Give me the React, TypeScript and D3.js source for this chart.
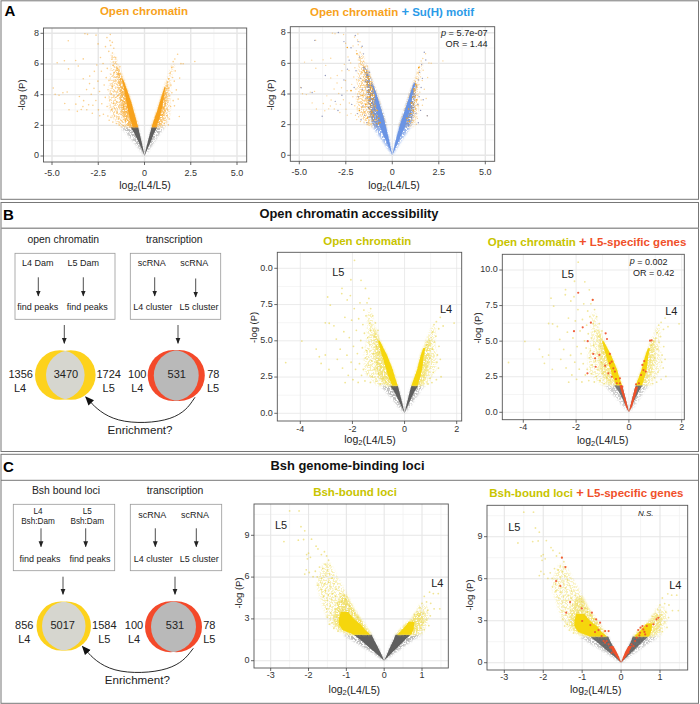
import * as d3 from 'd3';
import { useMemo } from 'react';

type Pt = [number, number];
type Row = [number, number, number]; // -log P, inner x, outer x

const FONT = '"Liberation Sans", Arial, sans-serif';
const GRAY = '#5f5f5f';
const ORANGE = '#f7a21b';
const BLUE = '#6a94e4';
const YELLOW = '#f5d60a';
const PALE = '#efdc55';
const OLIVE = '#c8c400';
const RED = '#f0502a';

const xTicksA = [-5, -2.5, 0, 2.5, 5];
const xLabelsA = ['-5.0', '-2.5', '0', '2.5', '5.0'];
const yTicksA = [0, 2, 4, 6, 8];
const xTicksB = [-4, -2, 0, 2];
const yTicksB = [0, 2.5, 5, 7.5, 10];
const yLabelsB1 = ['0.0', '2.5', '5.0', '7.5', '0.0'];
const yLabelsB2 = ['0.0', '2.5', '5.0', '7.5', '10.0'];
const xTicksC = [-3, -2, -1, 0, 1];
const yTicksC = [0, 3, 6, 9];

// panel A, dense parts of the cloud read as envelopes
const aGrayHaze: Row[][] = [
  [[0, 0, 0], [0.5, -0.08, -0.3], [1, -0.17, -0.62], [1.5, -0.27, -0.98], [1.87, -0.34, -1.28]],
  [[0, 0, 0], [0.5, 0.09, 0.3], [1, 0.19, 0.56], [1.5, 0.3, 0.84], [1.87, 0.38, 1.08]],
];
const aGrayCore: Row[][] = [
  [[0, 0, 0], [0.5, -0.08, -0.17], [1, -0.17, -0.35], [1.5, -0.27, -0.56], [1.87, -0.34, -0.74]],
  [[0, 0, 0], [0.5, 0.09, 0.18], [1, 0.19, 0.36], [1.5, 0.3, 0.52], [1.87, 0.38, 0.68]],
];
const aColorMid: Row[][] = [
  [[1.87, -0.34, -1.25], [2.5, -0.48, -1.7], [3, -0.6, -1.88], [4, -0.85, -1.92], [5, -1.15, -1.85], [6, -1.45, -1.8], [6.6, -1.6, -1.82]],
  [[1.87, 0.38, 1.12], [2.5, 0.55, 1.32], [3, 0.7, 1.38], [4, 0.95, 1.38], [5, 1.22, 1.4], [6, 1.5, 1.62]],
];
const aColorNear: Row[][] = [
  [[1.87, -0.34, -0.9], [2.5, -0.48, -1.15], [3, -0.6, -1.25], [4, -0.85, -1.35], [5, -1.15, -1.42], [5.8, -1.4, -1.55]],
  [[1.87, 0.38, 0.85], [2.5, 0.55, 1.05], [3, 0.7, 1.15], [4, 0.95, 1.22], [4.8, 1.18, 1.28]],
];
const aColorCore: Row[][] = [
  [[1.87, -0.34, -0.64], [2.5, -0.48, -0.8], [3, -0.6, -0.9], [3.5, -0.71, -0.98], [4, -0.85, -1.05], [4.5, -1, -1.13], [5, -1.15, -1.23]],
  [[1.87, 0.38, 0.64], [2.5, 0.55, 0.82], [3, 0.7, 0.92], [3.5, 0.82, 1], [4, 0.95, 1.06], [4.5, 1.08, 1.14]],
];
const aBlueHaze: Row[][] = [
  [[0, 0, 0], [1, -0.17, -0.55], [1.87, -0.34, -1.05], [2.5, -0.48, -1.15], [3, -0.6, -1.1], [3.6, -0.75, -1.05]],
  [[0, 0, 0], [1, 0.19, 0.5], [1.87, 0.38, 0.98], [2.5, 0.55, 1.1], [3, 0.7, 1.1], [3.6, 0.85, 1.12]],
];
const aBlueCore: Row[][] = [
  [[0, 0, 0], [1, -0.17, -0.36], [1.87, -0.34, -0.68], [2.5, -0.48, -0.76], [3, -0.6, -0.82], [4, -0.85, -0.96], [4.6, -1.03, -1.08]],
  [[0, 0, 0], [1, 0.19, 0.37], [1.87, 0.38, 0.68], [2.5, 0.55, 0.84], [3, 0.7, 0.95], [4, 0.95, 1.1], [4.7, 1.15, 1.24]],
];

const aPoints: Pt[] = [
  [-4.83, 4.02], [-4.62, 3.96], [-4.41, 4.12], [-4.18, 4.17], [-4.31, 3.42], [-4.08, 3.02], [-4.93, 4.43], [-4.11, 5.68], [-4.33, 6.21], [-4.72, 6.08],
  [-3.72, 6.23], [-3.58, 5.87], [-3.31, 6.33], [-4.12, 7.51], [-3.22, 7.97], [-3.08, 7.93], [-2.62, 7.88], [-2.51, 7.31], [-3.71, 3.38], [-3.63, 2.91],
  [-3.42, 3.03], [-3.33, 3.22], [-3.52, 3.88], [-3.29, 3.61], [-3.12, 3.02], [-3.02, 3.34], [-3.13, 4.33], [-2.97, 4.72], [-3.31, 5.04], [-2.96, 5.21],
  [-2.88, 4.03], [-2.79, 3.31], [-2.82, 2.79], [-2.71, 5.52], [-2.73, 4.41], [-2.58, 5.93], [-2.63, 3.62], [-2.52, 4.88], [-2.49, 3.01], [-2.42, 2.62],
  [-2.38, 6.42], [-2.43, 4.21], [-2.33, 5.53], [-2.31, 3.41], [-2.22, 2.72], [-2.18, 4.63], [-2.24, 6.03], [-2.12, 3.82], [-2.07, 5.11], [-2.11, 7.13],
  [-2.03, 7.72], [-1.98, 2.61], [-2.02, 3.23], [-1.97, 4.32], [-2.01, 5.71], [-1.91, 2.33], [-1.88, 3.64], [-1.93, 6.82], [-1.87, 7.52], [-1.92, 4.93],
  [-1.85, 7.92], [-1.81, 2.52], [-1.79, 3.03], [-1.78, 4.02], [-1.82, 5.33], [-1.77, 6.31], [-1.83, 7.21], [-1.71, 2.21], [-1.68, 3.42], [-1.72, 4.53],
  [-1.69, 5.91], [-1.73, 6.72], [-1.74, 7.41], [-1.62, 2.63], [-1.64, 3.13], [-1.58, 3.81], [-1.61, 4.22], [-1.59, 4.87], [-1.63, 5.42], [-1.57, 6.13],
  [-1.66, 7.03], [-1.52, 2.12], [-1.49, 2.83], [-1.51, 3.52], [-1.47, 4.47], [-1.53, 5.12], [-1.48, 5.72], [-1.56, 6.42], [-1.42, 2.41], [-1.39, 3.18],
  [-1.44, 3.93], [-1.38, 4.72], [-1.41, 5.33], [-1.33, 5.83], [-1.31, 2.13], [-1.28, 2.72], [-1.34, 3.33], [-1.27, 4.13], [-1.3, 5.01], [-1.36, 2.02],
  [-1.22, 2.28], [-1.19, 3.02], [-1.24, 3.62], [-1.17, 4.42], [-1.13, 1.98], [-1.09, 2.62], [-1.14, 3.21], [-1.07, 3.83], [-1.02, 2.31], [-0.97, 2.92],
  [1.79, 6.63], [1.64, 6.32], [2.09, 6.01], [2.72, 6.16], [1.97, 6.02], [1.55, 6.15], [1.47, 5.76], [1.38, 5.41], [1.66, 5.55], [1.52, 5.12],
  [1.9, 5.08], [1.31, 5.03], [1.61, 4.88], [1.43, 4.62], [1.72, 4.31], [1.32, 4.41], [1.48, 4.12], [1.82, 3.71], [1.36, 3.92], [1.55, 3.61],
  [1.28, 3.52], [1.41, 3.23], [1.62, 3.27], [1.88, 2.58], [1.26, 3.02], [1.12, 2.31], [1.21, 2.62], [1.35, 2.41], [1.06, 2.12], [1.29, 2.03],
  [1.16, 4.13], [1.23, 4.82], [1.13, 3.41], [0.96, 2.72], [1.02, 3.11], [1.07, 3.73],
];
// dots with the motif in the second plot of panel A
const aMotifPoints: Pt[] = [
  [-2.9, 8.01], [-2.6, 7.42], [-4.17, 7.5], [-1.99, 7.82], [-4.9, 4.41], [-4.31, 4.1], [-3.77, 2.55], [-3.07, 3.52], [-2.6, 4.92], [-3.6, 5.21],
  [-2.32, 6.21], [-2.18, 3.32], [-2.41, 5.62], [-2.05, 4.42], [-1.95, 5.52], [-1.88, 2.72], [-1.83, 3.82], [-1.76, 6.42], [-1.72, 5.02], [-1.68, 2.32],
  [-1.61, 4.31], [-1.57, 3.22], [-1.54, 5.71], [-1.49, 2.62], [-1.46, 4.82], [-1.42, 3.72], [-1.37, 2.13], [-1.35, 5.22], [-1.33, 4.22], [-1.29, 3.12],
  [-1.25, 2.52], [-1.22, 5.42], [-1.2, 3.92], [-1.16, 2.83], [-1.12, 4.52], [-1.09, 3.42], [-1.04, 2.21], [-1.02, 4.12], [-0.98, 3.02], [-0.92, 3.62],
  [-1.55, 6.62], [-1.62, 7.12], [-1.84, 7.42], [-2.22, 7.02], [-2.71, 3.92], [-2.92, 2.92],
  [1.72, 6.72], [1.8, 6.22], [1.58, 5.92], [1.47, 5.42], [1.62, 5.02], [1.41, 4.92], [1.55, 4.42], [1.3, 4.52], [1.44, 3.82], [1.66, 3.62], [1.22, 3.92], [1.38, 3.32], [1.15, 3.12], [1.27, 2.73], [1.52, 2.93], [1.4, 2.12], [1.88, 2.58], [1.05, 2.42],
];
const aOrangeHits: Pt[] = [
  [-2.42, 7.03], [-1.9, 6.62], [-1.52, 5.52], [-1.31, 5.12], [-1.21, 4.72], [-1.07, 4.33], [-0.98, 3.92], [-1.25, 3.82], [-1.42, 3.32], [-0.92, 3.22],
  [-1.12, 2.82], [-0.81, 2.92], [-0.72, 2.42], [-1.02, 2.62], [-0.66, 2.13], [-1.33, 2.43], [-0.88, 2.31], [-1.62, 3.92], [-1.77, 2.92], [-2.22, 4.22],
  [1.42, 5.72], [1.27, 4.62], [1.15, 4.32], [1.02, 3.42], [0.88, 3.02], [1.12, 2.92], [0.78, 2.42], [0.92, 2.22], [1.31, 3.62],
];

// panel B
const bGrayHaze: Row[][] = [
  [[0, 0, 0], [0.5, -0.06, -0.26], [1, -0.13, -0.47], [1.5, -0.2, -0.72], [1.9, -0.26, -0.92]],
  [[0, 0, 0], [0.5, 0.06, 0.22], [1, 0.13, 0.4], [1.5, 0.2, 0.58], [1.9, 0.26, 0.76]],
];
const bGrayCore: Row[][] = [
  [[0, 0, 0], [0.5, -0.06, -0.13], [1, -0.13, -0.26], [1.5, -0.2, -0.4], [1.9, -0.26, -0.56]],
  [[0, 0, 0], [0.5, 0.06, 0.12], [1, 0.13, 0.25], [1.5, 0.2, 0.38], [1.9, 0.26, 0.52]],
];
const bColorMid: Row[][] = [
  [[1.9, -0.26, -1.02], [2.5, -0.37, -1.4], [3, -0.45, -1.55], [4, -0.67, -1.55], [5, -0.95, -1.45], [6, -1.15, -1.42], [7, -1.28, -1.42]],
  [[1.9, 0.26, 0.86], [2.5, 0.38, 1.02], [3, 0.48, 1.2], [4, 0.62, 1.22], [5, 0.82, 1.15], [6, 1.05, 1.2]],
];
const bColorNear: Row[][] = [
  [[1.9, -0.26, -0.72], [2.5, -0.37, -0.98], [3, -0.45, -1.1], [4, -0.67, -1.15], [5, -0.95, -1.15], [5.8, -1.12, -1.22]],
  [[1.9, 0.26, 0.68], [2.5, 0.38, 0.82], [3, 0.48, 0.92], [4, 0.62, 0.98], [5, 0.84, 1.02]],
];
const bColorCore: Row[][] = [
  [[1.9, -0.26, -0.47], [2.5, -0.37, -0.62], [3, -0.45, -0.7], [4, -0.67, -0.87], [5, -0.95, -1.02]],
  [[1.9, 0.26, 0.5], [2.5, 0.38, 0.6], [3, 0.48, 0.67], [4, 0.62, 0.74], [4.5, 0.72, 0.8]],
];
const bPoints: Pt[] = [
  [-4.56, 3.5], [-3.94, 4.98], [-3.39, 4.43], [-3.27, 3.9], [-3.2, 3.44], [-3.04, 4.02], [-2.9, 3.02], [-3.04, 6.24], [-2.89, 6.21], [-2.85, 7.46],
  [-2.95, 8.02], [-2.4, 8.62], [-2.41, 8.26], [-2.06, 9.21], [-1.92, 10.55], [-1.67, 9.17], [-1.5, 8.61], [-2.2, 7.82], [-2.08, 8.12], [-2.28, 2.12],
  [-2.71, 6.03], [-2.62, 5.12], [-2.58, 3.72], [-2.47, 4.42], [-2.38, 3.12], [-2.33, 5.63], [-2.29, 6.62], [-2.21, 4.01], [-2.16, 2.62], [-2.12, 5.22],
  [-2.05, 3.52], [-2.03, 6.42], [-1.98, 2.32], [-1.96, 4.62], [-1.93, 7.22], [-1.88, 3.03], [-1.85, 5.72], [-1.81, 4.12], [-1.78, 2.13], [-1.76, 6.52],
  [-1.73, 3.42], [-1.71, 7.62], [-1.68, 5.02], [-1.65, 2.62], [-1.62, 4.52], [-1.6, 6.12], [-1.58, 3.02], [-1.56, 7.12], [-1.54, 5.52], [-1.52, 2.23],
  [-1.5, 3.82], [-1.48, 6.72], [-1.46, 4.32], [-1.44, 7.62], [-1.43, 2.72], [-1.41, 5.22], [-1.39, 3.32], [-1.37, 7.92], [-1.35, 6.22], [-1.33, 4.72],
  [-1.31, 2.13], [-1.3, 7.22], [-1.29, 5.72], [-1.26, 3.62], [-1.24, 2.52], [-1.22, 6.72], [-1.2, 4.12], [-1.17, 3.02], [-1.15, 5.32], [-1.12, 6.23],
  [-1.1, 2.22], [-1.08, 4.62], [-1.05, 3.52], [-1.02, 5.72], [-1, 2.72], [-0.96, 4.22], [-0.94, 2.02], [-0.9, 3.22], [-0.84, 2.42],
  [1.9, 6.22], [1.37, 6.62], [1.48, 6.02], [1.31, 5.83], [1.22, 6.32], [1.13, 6.12], [1.07, 5.62], [1.2, 5.32], [1.15, 4.92], [1.02, 5.22],
  [0.94, 5.02], [1.32, 4.62], [1.08, 4.42], [1.26, 4.02], [1.37, 3.72], [1.24, 3.52], [1.3, 3.12], [1.4, 2.52], [1.1, 2.82], [1.22, 2.32],
  [0.98, 2.42], [1.05, 2.12], [0.9, 2.02], [0.85, 4.72], [0.97, 3.82],
];
const bRedWedge: Row[][] = [
  [[0, 0, 0], [0.4, -0.05, -0.12], [1, -0.13, -0.21], [1.9, -0.26, -0.36]],
  [[0, 0, 0], [0.4, 0.05, 0.12], [1, 0.13, 0.22], [1.8, 0.24, 0.35]],
];
const bRedPoints: Pt[] = [
  [-1.92, 8.4], [-1.37, 7.9], [-1.75, 5.97], [-2.08, 5.7], [-1.44, 6.3], [-1.56, 5], [-0.88, 5.55], [-0.83, 5.15], [-1.35, 4.1], [-1.12, 4.03],
  [-0.72, 4.1], [-0.65, 3.56], [-0.72, 3.44], [-0.9, 3.28], [-1.28, 3.8], [-1.26, 3.2], [-1.57, 2.74], [-0.34, 2.39], [-0.53, 2.86], [-0.78, 2.74],
  [-0.59, 3.09], [-0.46, 2.04], [-0.34, 2.04], [-0.49, 2.34], [-0.25, 1.8], [-0.65, 2.5], [0.58, 3.6], [0.51, 3.33], [0.55, 2.97], [0.46, 2.62],
  [0.38, 2.04], [0.27, 1.97], [0.86, 5.06], [0.8, 5.03], [0.64, 2.86],
];

// panel C
const cGrayHaze: Row[][] = [
  [[0, 0, 0], [0.5, -0.08, -0.27], [1, -0.17, -0.56], [1.5, -0.27, -0.86], [1.87, -0.33, -1.08]],
  [[0, 0, 0], [0.5, 0.08, 0.25], [1, 0.16, 0.5], [1.5, 0.25, 0.76], [1.87, 0.3, 0.98]],
];
const cGrayCore: Row[][] = [
  [[0, 0, 0], [0.5, -0.08, -0.2], [1, -0.17, -0.42], [1.5, -0.27, -0.63], [1.87, -0.33, -0.8]],
  [[0, 0, 0], [0.5, 0.08, 0.18], [1, 0.16, 0.37], [1.5, 0.25, 0.55], [1.87, 0.3, 0.7]],
];
const cColorMid: Row[][] = [
  [[1.87, -0.33, -0.98], [2.2, -0.42, -1.25], [2.6, -0.52, -1.42], [3, -0.62, -1.5], [3.6, -0.77, -1.58], [4.2, -0.9, -1.65], [4.83, -1, -1.72], [5.5, -1.13, -1.78], [6.2, -1.28, -1.72], [7, -1.43, -1.6]],
  [[1.87, 0.3, 1], [2.5, 0.52, 1.12], [3, 0.72, 1.18], [3.5, 0.85, 1.18], [4, 0.92, 1.12]],
];
const cColorNear: Row[][] = [
  [[1.87, -0.33, -0.9], [2.2, -0.42, -1.17], [2.6, -0.52, -1.32], [3, -0.62, -1.35], [3.6, -0.77, -1.3], [4.2, -0.9, -1.22], [4.7, -0.98, -1.15]],
  [[1.87, 0.3, 0.85], [2.5, 0.52, 1], [3, 0.72, 1.05], [3.5, 0.84, 1.05]],
];
const cColorCore: Row[][] = [
  [[1.87, -0.36, -0.8], [2.2, -0.5, -1.1], [2.6, -0.62, -1.2], [3, -0.8, -1.2], [3.5, -0.95, -1.15]],
  [[1.87, 0.34, 0.72], [2.3, 0.5, 0.78], [2.8, 0.65, 0.8]],
];
const cPoints: Pt[] = [
  [-2.5, 10.75], [-2.25, 10.75], [-2.65, 8.55], [-2.2, 9.62], [-2.27, 8.65], [-2.13, 8.7], [-2.1, 9.32], [-1.92, 8.72], [-1.8, 8.22], [-1.75, 8.02],
  [-1.66, 7.62], [-2.05, 7.62], [-2.03, 7.31], [-2, 7.72], [-1.95, 7.42], [-1.58, 7.82], [-1.52, 7.52], [-1.47, 7.21], [-1.43, 6.83], [-1.5, 6.52],
  [-1.56, 6.92], [-1.62, 6.62], [-1.71, 6.72], [-1.82, 6.42], [-1.98, 6.33], [-2.06, 6.52], [-2.1, 6.22], [-1.88, 6.03], [-1.77, 6.02], [-1.65, 5.92],
  [-1.55, 6.12], [-1.44, 6.22], [-1.38, 5.92], [-1.47, 5.62], [-1.58, 5.52], [-1.68, 5.62], [-1.76, 5.42], [-1.67, 5.12], [-1.55, 5.02], [-1.43, 5.32],
  [-1.33, 5.52], [-1.28, 5.12], [-1.36, 4.82], [-1.48, 4.72], [-1.6, 4.62], [-1.5, 4.32], [-1.4, 4.42], [-1.28, 4.62], [-1.17, 4.82], [-1.06, 4.72],
  [-1.01, 4.42], [-1.12, 4.22], [-1.24, 4.12], [-1.43, 3.92], [-1.52, 3.72], [-1.3, 3.72], [-1.42, 3.42], [-1.5, 3.12], [-1.38, 2.72], [-1.45, 2.62],
  [-1.33, 2.33], [-1.22, 2.12], [-0.92, 3.92], [-0.86, 3.62], [-0.78, 3.42], [-0.7, 3.12], [-0.62, 2.82], [-0.95, 3.42], [-1.1, 3.62], [-1, 4.02],
  [1.47, 3.72], [1.43, 4.82], [1.3, 4.82], [1.2, 4.92], [1.06, 4.62], [1.0, 4.12], [1.12, 4.22], [1.23, 4.12], [1.32, 3.72], [1.15, 3.62],
  [1.05, 3.42], [0.94, 3.82], [0.88, 3.52], [1.22, 3.22], [1.12, 2.92], [1.18, 2.52], [1.03, 2.72], [0.98, 2.32], [0.92, 3.22], [1.06, 2.22], [0.8, 3.32],
];
const cRedWedge: Row[][] = [
  [[0, 0, 0], [0.4, -0.05, -0.12], [0.8, -0.12, -0.22], [1.2, -0.2, -0.28]],
  [[0, 0, 0], [0.4, 0.05, 0.12], [0.8, 0.11, 0.21], [1.2, 0.19, 0.28]],
];
const cRedPoints: Pt[] = [
  [-1.52, 7.5], [-1.43, 6.83], [-1.67, 5.83], [-1.56, 5.48], [-1.31, 4.33], [-1.41, 3.57], [-1.01, 3.88], [-0.75, 3.57], [-0.64, 3.1], [-1, 2.98],
  [-0.54, 2.86], [-0.79, 2.69], [-0.41, 2.26], [-0.32, 2.26], [-0.58, 2.33], [-0.67, 2.19], [-0.5, 1.9], [-0.41, 1.43], [-0.32, 1.31], [-0.24, 0.71],
  [-0.37, 1.55], [-0.45, 1.55], [-0.28, 1.07], [0.4, 1.79], [0.49, 2.14], [0.57, 2.38], [0.66, 2.62], [0.5, 2.5], [0.44, 2.33], [0.62, 2.02],
  [0.83, 2.74], [0.96, 3.21], [0.91, 3.1], [0.36, 1.55], [0.27, 1.31], [0.23, 1.07], [0.19, 0.71], [0.32, 1.19], [0.55, 2.62], [0.6, 2.2], [0.47, 1.95],
];

type Scales = { x: d3.ScaleLinear<number, number>; y: d3.ScaleLinear<number, number> };

function Wedges({ rows, fill, opacity = 1, filter, x, y }: Scales & { rows: Row[][]; fill: string; opacity?: number; filter?: string }) {
  const gen = d3.area<Row>().x0((d) => x(d[1])).x1((d) => x(d[2])).y((d) => y(d[0]));
  return (
    <g opacity={opacity} filter={filter ? `url(#${filter})` : undefined}>
      {rows.map((r, i) => <path key={i} d={gen(r) ?? ''} fill={fill} />)}
    </g>
  );
}

function Dots({ pts, fill, r, opacity = 1, x, y }: Scales & { pts: Pt[]; fill: string; r: number; opacity?: number }) {
  return <g>{pts.map((d, i) => <circle key={i} cx={x(d[0])} cy={y(d[1])} r={r} fill={fill} fillOpacity={opacity} />)}</g>;
}

function Log2({ x, y }: { x: number; y: number }) {
  return (
    <text x={x} y={y} textAnchor="middle" fontSize={10.5} fill="#222" dominantBaseline="middle">
      log<tspan fontSize={7.5} dy={2.5}>2</tspan><tspan dy={-2.5}>(L4/L5)</tspan>
    </text>
  );
}

let clipCounter = 0;

type PlotProps = {
  frame: [number, number, number, number]; // left, right, top, bottom
  xMap: [number, number, number, number]; // value, px, value, px
  yMap: [number, number, number, number];
  xTicks: number[];
  xLabels: string[];
  yTicks: number[];
  yLabels: string[];
  xTitle: [number, number];
  yTitle: [number, number];
  major: number;
  tickGap: number;
  children: (s: Scales) => React.ReactNode;
};

function Plot({ frame, xMap, yMap, xTicks, xLabels, yTicks, yLabels, xTitle, yTitle, major, tickGap, children }: PlotProps) {
  const [left, right, top, bottom] = frame;
  const x = useMemo(() => d3.scaleLinear().domain([xMap[0], xMap[2]]).range([xMap[1], xMap[3]]), []);
  const y = useMemo(() => d3.scaleLinear().domain([yMap[0], yMap[2]]).range([yMap[1], yMap[3]]), []);
  const id = useMemo(() => `clip${clipCounter++}`, []);
  const step = (t: number[]) => t[1] - t[0];
  const minorX = [xTicks[0] - step(xTicks) / 2, ...d3.pairs(xTicks).map((p) => (p[0] + p[1]) / 2), xTicks[xTicks.length - 1] + step(xTicks) / 2];
  const minorY = [...d3.pairs(yTicks).map((p) => (p[0] + p[1]) / 2), yTicks[yTicks.length - 1] + step(yTicks) / 2];
  return (
    <g>
      <clipPath id={id}><rect x={left} y={top} width={right - left} height={bottom - top} /></clipPath>
      <g clipPath={`url(#${id})`}>
        {minorX.map((t) => <line key={t} x1={x(t)} x2={x(t)} y1={top} y2={bottom} stroke="#f0f0f0" strokeWidth={0.7} />)}
        {minorY.map((t) => <line key={t} y1={y(t)} y2={y(t)} x1={left} x2={right} stroke="#f0f0f0" strokeWidth={0.7} />)}
        {xTicks.map((t) => <line key={t} x1={x(t)} x2={x(t)} y1={top} y2={bottom} stroke="#e6e6e6" strokeWidth={major} />)}
        {yTicks.map((t) => <line key={t} y1={y(t)} y2={y(t)} x1={left} x2={right} stroke="#e6e6e6" strokeWidth={major} />)}
        {children({ x, y })}
      </g>
      <rect x={left} y={top} width={right - left} height={bottom - top} fill="none" stroke="#555" strokeWidth={0.9} />
      {xTicks.map((t, i) => (
        <g key={t}>
          <line x1={x(t)} x2={x(t)} y1={bottom} y2={bottom + 3} stroke="#444" strokeWidth={0.8} />
          <text x={x(t)} y={bottom + tickGap} textAnchor="middle" dominantBaseline="middle" fontSize={9} fill="#333">{xLabels[i]}</text>
        </g>
      ))}
      {yTicks.map((t, i) => (
        <g key={t}>
          <line x1={left - 3} x2={left} y1={y(t)} y2={y(t)} stroke="#444" strokeWidth={0.8} />
          <text x={left - 4.5} y={y(t)} textAnchor="end" dominantBaseline="middle" fontSize={9} fill="#333">{yLabels[i]}</text>
        </g>
      ))}
      <Log2 x={xTitle[0]} y={xTitle[1]} />
      <text transform={`translate(${yTitle[0]},${yTitle[1]}) rotate(-90)`} textAnchor="middle" dominantBaseline="middle" fontSize={9.5} fill="#222">-log (P)</text>
    </g>
  );
}

function Label({ x, y, size = 9, anchor = 'middle', style, weight, fill = '#222', children }: any) {
  return <text x={x} y={y} fontSize={size} textAnchor={anchor} dominantBaseline="middle" fontStyle={style} fontWeight={weight} fill={fill}>{children}</text>;
}

function Arrow({ x, y1, y2 }: { x: number; y1: number; y2: number }) {
  return <line x1={x} x2={x} y1={y1} y2={y2} stroke="#222" strokeWidth={0.8} markerEnd="url(#tip)" />;
}

function Venn({ c1, c2, cy, r, outer, inner, id }: { c1: number; c2: number; cy: number; r: number; outer: string; inner: string; id: string }) {
  return (
    <g>
      <clipPath id={id}><circle cx={c1} cy={cy} r={r} /></clipPath>
      <circle cx={c1} cy={cy} r={r} fill={outer} />
      <circle cx={c2} cy={cy} r={r} fill={outer} />
      <circle cx={c2} cy={cy} r={r} fill={inner} clipPath={`url(#${id})`} />
    </g>
  );
}

// grain for the dense parts of the clouds, threshold sets how much is covered
function Speckle({ id, cut, seed, blur = 0.8 }: { id: string; cut: number; seed: number; blur?: number }) {
  return (
    <filter id={id} x="-15%" y="-15%" width="130%" height="130%" colorInterpolationFilters="sRGB">
      <feGaussianBlur in="SourceGraphic" stdDeviation={blur} result="soft" />
      <feTurbulence type="fractalNoise" baseFrequency={0.6} numOctaves={2} seed={seed} result="noise" />
      <feColorMatrix in="noise" type="matrix" values={`0 0 0 0 0  0 0 0 0 0  0 0 0 0 0  0 0 0 9 ${-9 * cut}`} result="mask" />
      <feComposite in="soft" in2="mask" operator="in" />
    </filter>
  );
}

export default function App() {
  const bx = { xTicks: xTicksB, xLabels: xTicksB.map(String), yTicks: yTicksB, major: 0.8 };
  const cx = { xTicks: xTicksC, xLabels: xTicksC.map(String), yTicks: yTicksC, yLabels: yTicksC.map(String), major: 1.1, tickGap: 8 };
  const ax = { xTicks: xTicksA, xLabels: xLabelsA, yTicks: yTicksA, yLabels: yTicksA.map(String), major: 1.4, tickGap: 11.2 };
  const curve = d3.line<Pt>().curve(d3.curveBasis);
  return (
    <svg width={700} height={704} style={{ position: 'absolute', left: 0, top: 0, fontFamily: FONT }}>
      <defs>
        <marker id="tip" markerWidth={6} markerHeight={6} refX={4.5} refY={2} orient="auto" markerUnits="userSpaceOnUse" viewBox="0 0 5 4">
          <path d="M0 0L5 2L0 4Z" fill="#222" />
        </marker>
        <marker id="bigtip" markerWidth={9} markerHeight={8} refX={6} refY={3} orient="auto" markerUnits="userSpaceOnUse" viewBox="0 0 7 6">
          <path d="M0 0L7 3L0 6Z" fill="#111" />
        </marker>
        <Speckle id="sparse" cut={0.46} seed={3} />
        <Speckle id="near" cut={0.37} seed={8} />
        <Speckle id="sparse2" cut={0.41} seed={14} />
        <filter id="soft" x="-15%" y="-15%" width="130%" height="130%"><feGaussianBlur stdDeviation={0.5} /></filter>
      </defs>
      <rect width={700} height={704} fill="#fff" />

      {/* outer boxes */}
      <rect x={1} y={0.8} width={697.5} height={198.5} fill="none" stroke="#777" strokeWidth={1} />
      <rect x={1} y={202.5} width={697.5} height={249} fill="none" stroke="#777" strokeWidth={1} />
      <line x1={1} x2={698.5} y1={228.3} y2={228.3} stroke="#999" strokeWidth={1.4} />
      <rect x={1} y={454.3} width={697.5} height={249} fill="none" stroke="#777" strokeWidth={1} />
      <line x1={1} x2={698.5} y1={480.3} y2={480.3} stroke="#777" strokeWidth={1} />

      <Label x={10} y={12.5} size={15} weight="bold" fill="#000">A</Label>
      <Label x={8.5} y={216.5} size={15} weight="bold" fill="#000">B</Label>
      <Label x={8.5} y={468.5} size={15} weight="bold" fill="#000">C</Label>
      <Label x={349} y={215} size={12.9} weight="bold" fill="#111">Open chromatin accessibility</Label>
      <Label x={347.5} y={466.5} size={12.9} weight="bold" fill="#111">Bsh genome-binding loci</Label>

      {/* panel A */}
      <Label x={144} y={12} size={11.5} weight="bold" fill={ORANGE}>Open chromatin</Label>
      <Plot {...ax} frame={[43.5, 246.7, 28, 162]} xMap={[-5, 52, 5, 237]} yMap={[0, 156, 8, 33.3]} xTitle={[145, 186]} yTitle={[22, 95]}>
        {(s) => (
          <>
            <Wedges {...s} rows={aGrayHaze} fill={GRAY} opacity={0.4} filter="sparse2" />
            <Wedges {...s} rows={aGrayCore} fill={GRAY} filter="soft" />
            <Wedges {...s} rows={aColorMid} fill={ORANGE} opacity={0.38} filter="sparse" />
            <Wedges {...s} rows={aColorNear} fill={ORANGE} opacity={0.6} filter="near" />
            <Wedges {...s} rows={aColorCore} fill={ORANGE} filter="soft" />
            <Dots {...s} pts={aPoints} fill={ORANGE} r={0.8} opacity={0.5} />
          </>
        )}
      </Plot>

      <text x={310} y={13} fontSize={11.5} fontWeight="bold" dominantBaseline="middle" fill={ORANGE}>
        Open chromatin <tspan fill="#2b9be8" fontSize={13}>+</tspan><tspan fill="#2b9be8"> Su(H) motif</tspan>
      </text>
      <Plot {...ax} frame={[290.3, 494.7, 26.7, 161.3]} xMap={[-5, 299.3, 5, 485.3]} yMap={[0, 155.3, 8, 32.7]} xTitle={[394, 186]} yTitle={[271, 95]}>
        {(s) => (
          <>
            <Wedges {...s} rows={aColorMid} fill={ORANGE} opacity={0.42} filter="sparse" />
            <Wedges {...s} rows={aColorNear} fill="#5f6a92" opacity={0.65} filter="sparse2" />
            <Wedges {...s} rows={aColorNear} fill={ORANGE} opacity={0.5} filter="sparse" />
            <Wedges {...s} rows={aBlueHaze} fill={BLUE} opacity={0.7} filter="near" />
            <Wedges {...s} rows={aBlueCore} fill={BLUE} filter="soft" />
            <Dots {...s} pts={aPoints} fill={ORANGE} r={0.7} opacity={0.45} />
            <Dots {...s} pts={aMotifPoints} fill="#6c75a6" r={0.7} opacity={0.75} />
            <Dots {...s} pts={aOrangeHits} fill={ORANGE} r={0.8} />
          </>
        )}
      </Plot>
      <text x={487.7} y={33.5} fontSize={9.2} textAnchor="end" dominantBaseline="middle" fill="#222"><tspan fontStyle="italic">p</tspan> = 5.7e-07</text>
      <Label x={487.7} y={44.7} size={9.2} anchor="end">OR = 1.44</Label>

      {/* panel B */}
      <Label x={63.3} y={240} size={10.4}>open chromatin</Label>
      <Label x={174.3} y={240} size={10.4}>transcription</Label>
      <rect x={15} y={253.3} width={100} height={66} fill="#fff" stroke="#999" strokeWidth={0.8} />
      <rect x={130.3} y={253.3} width={90.4} height={66} fill="#fff" stroke="#999" strokeWidth={0.8} />
      <Label x={37.7} y={264} size={9}>L4 Dam</Label>
      <Label x={83.3} y={264} size={9}>L5 Dam</Label>
      <Label x={37.7} y={308} size={9}>find peaks</Label>
      <Label x={87.3} y={308} size={9}>find peaks</Label>
      <Label x={151.7} y={264} size={9}>scRNA</Label>
      <Label x={194.3} y={264} size={9}>scRNA</Label>
      <Label x={152.7} y={308} size={9}>L4 cluster</Label>
      <Label x={199} y={308} size={9}>L5 cluster</Label>
      <Arrow x={38.3} y1={277.3} y2={296} />
      <Arrow x={83.3} y1={277.3} y2={296} />
      <Arrow x={154.7} y1={277.3} y2={296} />
      <Arrow x={195.7} y1={278.5} y2={297} />
      <Arrow x={64.3} y1={325} y2={343.3} />
      <Arrow x={178} y1={325} y2={343.3} />
      <Venn id="vb1" c1={59.8} c2={70.8} cy={375} r={24.8} outer="#fdd21c" inner="#d6d6cf" />
      <Venn id="vb2" c1={173.2} c2={179.3} cy={375.5} r={25.5} outer="#f4492a" inner="#b9b9b9" />
      {[['1356', 20.7, 375], ['L4', 20, 389.5], ['3470', 66, 375], ['1724', 108.7, 375], ['L5', 108.7, 389.5], ['100', 137.3, 375], ['L4', 137.3, 389.5], ['531', 176.7, 375], ['78', 213.3, 375], ['L5', 213, 389.5]].map((d, i) => (
        <Label key={i} x={d[1]} y={d[2]} size={11}>{d[0]}</Label>
      ))}
      <path d={curve([[195, 397.3], [178, 422], [112, 425], [86, 397.3]]) ?? ''} fill="none" stroke="#111" strokeWidth={0.9} markerEnd="url(#bigtip)" />
      <Label x={140} y={430.7} size={11.6}>Enrichment?</Label>

      <Label x={367.3} y={242.3} size={11.5} weight="bold" fill={OLIVE}>Open chromatin</Label>
      <Plot {...bx} tickGap={8.3} yLabels={yLabelsB1} frame={[277.3, 461.7, 252.3, 421]} xMap={[-4, 300.3, 2, 456.7]} yMap={[0, 413.3, 10, 268.3]} xTitle={[370, 440.7]} yTitle={[254.3, 327.3]}>
        {(s) => (
          <>
            <Wedges {...s} rows={bGrayHaze} fill={GRAY} opacity={0.4} filter="sparse2" />
            <Wedges {...s} rows={bGrayCore} fill={GRAY} filter="soft" />
            <Wedges {...s} rows={bColorMid} fill={PALE} opacity={0.42} filter="sparse" />
            <Wedges {...s} rows={bColorNear} fill={PALE} opacity={0.65} filter="near" />
            <Wedges {...s} rows={bColorCore} fill={YELLOW} filter="soft" />
            <Dots {...s} pts={bPoints} fill="#e5cf3a" r={0.9} opacity={0.55} />
          </>
        )}
      </Plot>
      <Label x={338.3} y={272.7} size={11}>L5</Label>
      <Label x={446} y={310} size={11}>L4</Label>

      <text x={487.7} y={243.3} fontSize={11.5} fontWeight="bold" dominantBaseline="middle" fill={OLIVE}>
        Open chromatin <tspan fill={RED} fontSize={13}>+</tspan><tspan fill={RED}> L5-specific genes</tspan>
      </text>
      <Plot {...bx} tickGap={8} yLabels={yLabelsB2} frame={[502.3, 684.3, 254.3, 419.7]} xMap={[-4, 523.3, 2, 681.7]} yMap={[0, 412.3, 10, 270]} xTitle={[602.7, 441]} yTitle={[478.7, 328]}>
        {(s) => (
          <>
            <Wedges {...s} rows={bGrayHaze} fill={GRAY} opacity={0.32} filter="sparse2" />
            <Wedges {...s} rows={bGrayCore} fill={GRAY} opacity={0.85} filter="soft" />
            <Wedges {...s} rows={bColorMid} fill={PALE} opacity={0.36} filter="sparse" />
            <Wedges {...s} rows={bColorNear} fill={PALE} opacity={0.55} filter="near" />
            <Wedges {...s} rows={bColorCore} fill={YELLOW} filter="soft" />
            <Dots {...s} pts={bPoints} fill="#e5cf3a" r={0.9} opacity={0.5} />
            <Wedges {...s} rows={bRedWedge} fill={RED} />
            <Dots {...s} pts={bRedPoints} fill={RED} r={1.1} opacity={0.9} />
          </>
        )}
      </Plot>
      <Label x={567.7} y={275} size={11}>L5</Label>
      <Label x={671.3} y={311.7} size={11}>L4</Label>
      <text x={648.7} y={262.3} fontSize={9} textAnchor="middle" dominantBaseline="middle" fill="#222"><tspan fontStyle="italic">p</tspan> = 0.002</text>
      <Label x={653.7} y={273.3} size={9}>OR = 0.42</Label>

      {/* panel C */}
      <Label x={66} y={491.7} size={10.4}>Bsh bound loci</Label>
      <Label x={175} y={491.7} size={10.4}>transcription</Label>
      <rect x={13.3} y={504.3} width={101.4} height={66.4} fill="#fff" stroke="#999" strokeWidth={0.8} />
      <rect x={130.3} y={504.3} width={91.4} height={66.4} fill="#fff" stroke="#999" strokeWidth={0.8} />
      <Label x={38} y={512} size={8.2}>L4</Label>
      <Label x={38} y={522} size={8.2}>Bsh:Dam</Label>
      <Label x={87.3} y={512} size={8.2}>L5</Label>
      <Label x={87.3} y={522} size={8.2}>Bsh:Dam</Label>
      <Label x={40} y={559.3} size={9}>find peaks</Label>
      <Label x={90} y={559.3} size={9}>find peaks</Label>
      <Label x={152.3} y={515.7} size={9}>scRNA</Label>
      <Label x={195} y={515.7} size={9}>scRNA</Label>
      <Label x={153.3} y={559.3} size={9}>L4 cluster</Label>
      <Label x={199.3} y={559.3} size={9}>L5 cluster</Label>
      <Arrow x={41} y1={528.3} y2={546.7} />
      <Arrow x={85.7} y1={528.3} y2={546.7} />
      <Arrow x={155.3} y1={528.3} y2={546.7} />
      <Arrow x={196.3} y1={528.3} y2={546.7} />
      <Arrow x={63} y1={576.7} y2={594.3} />
      <Arrow x={175} y1={576.7} y2={594.3} />
      <Venn id="vc1" c1={61} c2={66.5} cy={626} r={24.5} outer="#fdd21c" inner="#d6d6cf" />
      <Venn id="vc2" c1={170.5} c2={176.5} cy={626.7} r={25.5} outer="#f4492a" inner="#b9b9b9" />
      {[['856', 24.3, 625.7], ['L4', 24.3, 640], ['5017', 62.7, 625.7], ['1584', 104.3, 625.7], ['L5', 104.3, 640], ['100', 134, 625.7], ['L4', 134, 640], ['531', 175, 625.7], ['78', 209.3, 625.7], ['L5', 209.3, 640]].map((d, i) => (
        <Label key={i} x={d[1]} y={d[2]} size={11}>{d[0]}</Label>
      ))}
      <path d={curve([[193.3, 648.3], [175, 672], [108, 675], [82.7, 646.7]]) ?? ''} fill="none" stroke="#111" strokeWidth={0.9} markerEnd="url(#bigtip)" />
      <Label x={137.3} y={680.7} size={11.6}>Enrichment?</Label>

      <Label x={355} y={493} size={11.5} weight="bold" fill={OLIVE}>Bsh-bound loci</Label>
      <Plot {...cx} frame={[254, 448.3, 504, 668]} xMap={[-3, 270.7, 1, 422]} yMap={[0, 660.7, 9, 535.3]} xTitle={[354.3, 690.7]} yTitle={[239, 593]}>
        {(s) => (
          <>
            <Wedges {...s} rows={cGrayHaze} fill={GRAY} opacity={0.45} filter="sparse2" />
            <Wedges {...s} rows={cGrayCore} fill={GRAY} filter="soft" />
            <Wedges {...s} rows={cColorMid} fill={PALE} opacity={0.42} filter="sparse" />
            <Wedges {...s} rows={cColorNear} fill={PALE} opacity={0.7} filter="near" />
            <Wedges {...s} rows={cColorCore} fill={YELLOW} filter="soft" />
            <Dots {...s} pts={cPoints} fill="#e5cf3a" r={0.9} opacity={0.55} />
          </>
        )}
      </Plot>
      <Label x={281} y={525.7} size={11}>L5</Label>
      <Label x={437.3} y={584.3} size={11}>L4</Label>

      <text x={489.3} y={494} fontSize={11.5} fontWeight="bold" dominantBaseline="middle" fill={OLIVE}>
        Bsh-bound loci <tspan fill={RED} fontSize={13}>+</tspan><tspan fill={RED}> L5-specific genes</tspan>
      </text>
      <Plot {...cx} frame={[487, 687.7, 505.3, 670]} xMap={[-3, 504.3, 1, 660]} yMap={[0, 662.7, 9, 536.7]} xTitle={[595.7, 690.7]} yTitle={[470, 595]}>
        {(s) => (
          <>
            <Wedges {...s} rows={cGrayHaze} fill={GRAY} opacity={0.36} filter="sparse2" />
            <Wedges {...s} rows={cGrayCore} fill={GRAY} opacity={0.9} filter="soft" />
            <Wedges {...s} rows={cColorMid} fill={PALE} opacity={0.38} filter="sparse" />
            <Wedges {...s} rows={cColorNear} fill={PALE} opacity={0.6} filter="near" />
            <Wedges {...s} rows={cColorCore} fill={YELLOW} filter="soft" />
            <Dots {...s} pts={cPoints} fill="#e5cf3a" r={0.9} opacity={0.5} />
            <Wedges {...s} rows={cRedWedge} fill={RED} />
            <Dots {...s} pts={cRedPoints} fill={RED} r={1.1} opacity={0.9} />
          </>
        )}
      </Plot>
      <Label x={514.3} y={527.7} size={11}>L5</Label>
      <Label x={675.3} y={585.7} size={11}>L4</Label>
      <Label x={645.7} y={514.3} size={8} style="italic">N.S.</Label>
    </svg>
  );
}
